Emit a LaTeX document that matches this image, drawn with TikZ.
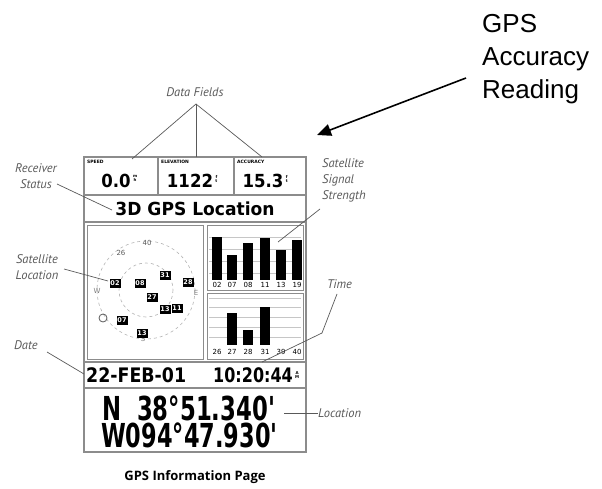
\documentclass[tikz,border=0pt]{standalone}
\usepackage{fontspec}
\usepackage{graphicx}
\usetikzlibrary{arrows.meta}
\newfontfamily\lcdfont{DejaVu Sans}
\newfontfamily\notefont{PT Sans}
\newfontfamily\capfont{Open Sans}
\newfontfamily\callfont{Liberation Sans}
\newcommand\lcd[3]{\scalebox{#2}[1]{\fontsize{#1}{#1}\selectfont\lcdfont\bfseries #3}}
\definecolor{lead}{gray}{0.35}
\definecolor{frame}{gray}{0.55}

\begin{document}
\begin{tikzpicture}[x=1pt,y=-1pt,
  note/.style={font=\notefont\itshape\fontsize{12.5}{16}\selectfont, text=lead, inner sep=0pt, align=center},
  leader/.style={draw=lead, line width=0.7pt},
  panel/.style={draw=frame, line width=1.2pt},
  chartline/.style={draw=gray!45, line width=0.8pt},
  sat/.style={fill=black, text=white, inner sep=0.5pt, minimum width=11pt, minimum height=9pt, font=\lcdfont\bfseries\fontsize{6.5}{6.5}\selectfont},
  ring/.style={draw=gray!60, dashed, line width=0.6pt},
  barlabel/.style={inner sep=0pt, font=\lcdfont\fontsize{7}{7}\selectfont},
  fieldname/.style={inner sep=0pt, anchor=north west, font=\lcdfont\bfseries\fontsize{4.5}{4.5}\selectfont},
  unit/.style={inner sep=0pt, anchor=north west, align=center, font=\lcdfont\bfseries\fontsize{4}{4}\selectfont},
  ]
\useasboundingbox (0,0) rectangle (602,489);

% callout
\node[anchor=north west, inner sep=0pt, align=left, font=\callfont\fontsize{26}{33}\selectfont] (acc) at (482,14) {GPS\\Accuracy\\Reading};
\coordinate (accA) at (466,78);
\coordinate (accB) at (317,135);
\draw[-{Triangle[length=14pt,width=12pt]}, line width=1.6pt] (accA) -- (accB);

% frame of the page
\draw[panel] (84,157) rectangle (306,452);
\draw[panel] (84,195) -- (306,195);
\draw[panel] (84,222) -- (306,222);
\draw[panel] (84,362) -- (306,362);
\draw[panel] (84,388) -- (306,388);
\draw[panel] (158,157) -- (158,195);
\draw[panel] (234,157) -- (234,195);
\draw[panel, line width=0.8pt] (87,225) rectangle (203,359);
\draw[panel, line width=0.8pt] (207,225) rectangle (303,290);
\draw[panel, line width=0.8pt] (207,293) rectangle (303,359);

% data fields
\node[fieldname] (spdT) at (87,160) {SPEED};
\node[fieldname] (eleT) at (161,160) {ELEVATION};
\node[fieldname] (accT) at (237,160) {ACCURACY};
\node[anchor=base, inner sep=0pt] (spd) at (116,188) {\lcd{18}{0.92}{0.0}};
\node[unit] (spdU) at ([xshift=2pt,yshift=-1pt]spd.north east) {m\\h};
\node[anchor=base, inner sep=0pt] (ele) at (190,188) {\lcd{18}{0.92}{1122}};
\node[unit] (eleU) at ([xshift=2pt,yshift=-1pt]ele.north east) {f\\t};
\node[anchor=base, inner sep=0pt] (acv) at (263,188) {\lcd{18}{0.92}{15.3}};
\node[unit] (acvU) at ([xshift=2pt,yshift=-1pt]acv.north east) {f\\t};
\node[anchor=base, inner sep=0pt] (stat) at (195,215) {\lcd{18}{0.95}{3D GPS Location}};

% sky view
\coordinate (sky) at (146,290);
\draw[ring] (sky) circle[radius=49];
\draw[ring] (sky) circle[radius=27];
\node[barlabel, text=gray!70!black] (n40) at (147,243) {40};
\node[barlabel, text=gray!70!black] (n26) at (121,253) {26};
\node[barlabel, text=gray] (dirW) at (97,291) {W};
\node[barlabel, text=gray] (dirE) at (196,293) {E};
\node[barlabel, text=gray] (dirS) at (143,339) {S};
\draw[gray!70!black, line width=0.8pt] (103,318) circle[radius=4];
\node[sat] (s02) at (115,283) {02};
\node[sat] (s08) at (140,283) {08};
\node[sat] (s31) at (165,275) {31};
\node[sat] (s27) at (152,297) {27};
\node[sat] (s28) at (188,282) {28};
\node[sat] (s13a) at (165,309) {13};
\node[sat] (s11) at (177,308) {11};
\node[sat] (s07) at (122,320) {07};
\node[sat] (s13b) at (142,333) {13};

% signal strength bars
\foreach \y in {237,249,261,273}
  \draw[chartline] (209,\y) -- (301,\y);
\foreach \x/\t/\l in {217/237/02, 232/255/07, 248/243/08, 265/238/11, 281/250/13, 297/240/19} {
  \fill (\x-5,\t) rectangle (\x+5,280);
  \node[barlabel] at (\x,285) {\l};
}
\foreach \y in {298,307,317,327,337}
  \draw[chartline] (209,\y) -- (301,\y);
\foreach \x/\l in {217/26, 232/27, 248/28, 265/31, 281/39, 297/40}
  \node[barlabel] at (\x,352) {\l};
\foreach \x/\t in {232/313, 248/330, 265/307}
  \fill (\x-5,\t) rectangle (\x+5,345);

% date, time, position
\node[anchor=base west, inner sep=0pt] (date) at (86,382) {\lcd{20}{0.87}{22-FEB-01}};
\node[anchor=base east, inner sep=0pt] (time) at (293,382) {\lcd{20}{0.8}{10:20:44}};
\node[unit] (ampm) at (295,371) {A\\M};
\node[anchor=base west, inner sep=0pt] (lat) at (102,420) {\lcd{33}{0.69}{N\ \ 38°51.340'}};
\node[anchor=base west, inner sep=0pt] (lon) at (101,447) {\lcd{33}{0.68}{W094°47.930'}};

% labels
\node[note, anchor=base] (dfl) at (195,97) {Data Fields};
\coordinate (dfA) at (196,104);
\coordinate (dfS) at (132,159);
\coordinate (dfE) at (196,157);
\coordinate (dfC) at (262,157);
\draw[leader] (dfS) -- (dfA) -- (dfC);
\draw[leader] (dfA) -- (dfE);

\node[note, anchor=north] (rcv) at (36,163) {Receiver\\Status};
\coordinate (rcvA) at (57,184);
\coordinate (rcvB) at (112,210);
\draw[leader] (rcvA) -- (rcvB);

\node[note, anchor=north] (sloc) at (37,254) {Satellite\\Location};
\coordinate (slocA) at (64,269);
\coordinate (slocB) at (108,281);
\draw[leader] (slocA) -- (slocB);

\node[note, anchor=north west] (dtl) at (14,340) {Date};
\coordinate (dtlA) at (47,352);
\coordinate (dtlB) at (84,374);
\draw[leader] (dtlA) -- (dtlB);

\node[note, anchor=north west, align=left] (sig) at (322,158) {Satellite\\Signal\\Strength};
\coordinate (sigA) at (320,209);
\coordinate (sigB) at (278,242);
\draw[leader] (sigA) -- (sigB);

\node[note, anchor=north west] (tml) at (327,279) {Time};
\coordinate (tmlA) at (337,294);
\coordinate (tmlM) at (322,333);
\coordinate (tmlB) at (262,362);
\draw[leader] (tmlA) -- (tmlM) -- (tmlB);

\node[note, anchor=west] (locl) at (318,413) {Location};
\coordinate (loclA) at (284,413);
\draw[leader] (loclA) -- (locl);

% caption
\node[anchor=base, inner sep=0pt, font=\capfont\bfseries\fontsize{13}{13}\selectfont] (cap) at (195,480) {GPS Information Page};
\end{tikzpicture}
\end{document}
